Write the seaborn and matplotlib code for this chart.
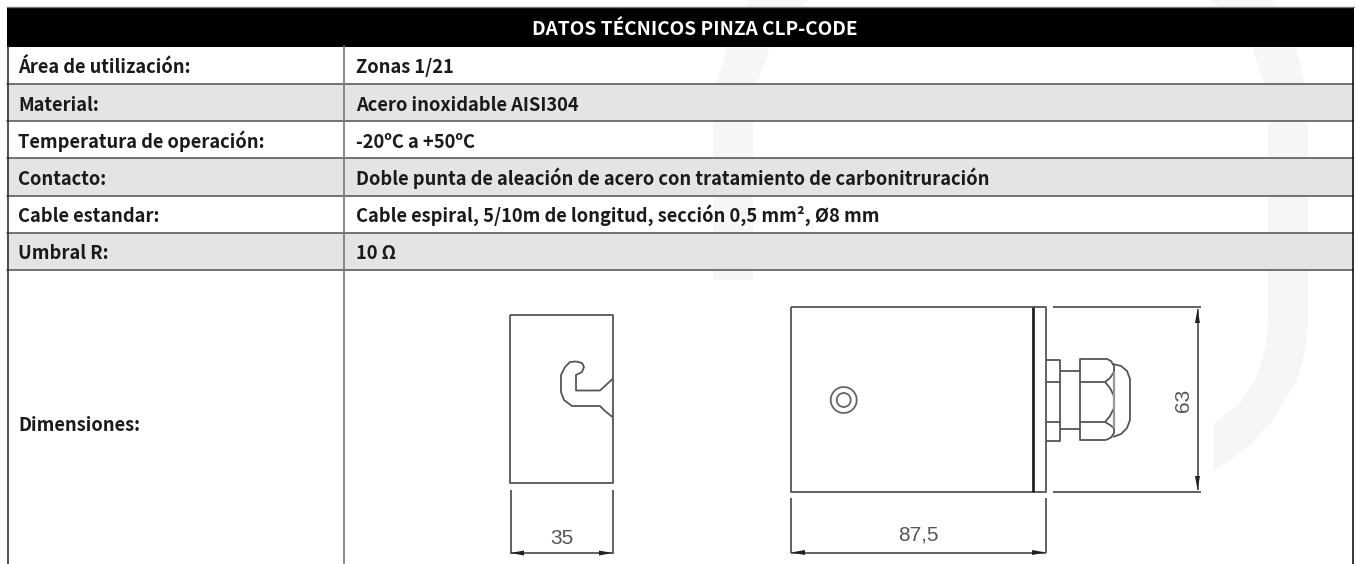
import numpy as np
import pandas as pd
import matplotlib.pyplot as plt
from matplotlib.patches import Circle, Polygon
import seaborn as sns

title = "DATOS TÉCNICOS PINZA CLP-CODE"
row_labels = ["Área de utilización:", "Material:", "Temperatura de operación:",
              "Contacto:", "Cable estandar:", "Umbral R:", "Dimensiones:"]
row_values = ["Zonas 1/21", "Acero inoxidable AISI304", "-20ºC a +50ºC",
              "Doble punta de aleación de acero con tratamiento de carbonitruración",
              "Cable espiral, 5/10m de longitud, sección 0,5 mm², Ø8 mm", "10 Ω", ""]
row_edges = [46.5, 83.5, 121, 158, 195.5, 233, 270, 564]
row_baselines = [73, 111, 148, 185, 222, 259, 431]
dim_labels = ["35", "87,5", "63"]

# background swoosh outlines
swoosh_left = [(750, 0), (808, 0), (785, 20), (770, 46), (757, 83), (753, 121), (753, 280), (713, 280),
               (713, 121), (716, 83), (728, 46), (738, 20)]
swoosh_right = [(1210, 0), (1270, 0), (1285, 22), (1295, 46), (1305, 83), (1308, 121), (1308, 323),
                (1306, 347), (1297, 380), (1273, 420), (1247, 448), (1214, 471), (1214, 424), (1240, 403),
                (1258, 375), (1266, 345), (1268, 323), (1268, 121), (1264, 83), (1252, 46), (1235, 20)]

# drawing strokes
thin_strokes = {
    "left_box": [(510, 315), (612.5, 315), (612.5, 483), (510, 483), (510, 315)],
    "left_ext1": [(510.5, 490), (510.5, 554)],
    "left_ext2": [(612.5, 490), (612.5, 554)],
    "left_dim": [(510.5, 553), (612.5, 553)],
    "hook": [(612.5, 379), (600, 390.5), (576, 390.5), (576, 375), (582, 372), (584, 367), (582, 363), (576, 361.5),
             (570, 362), (565, 367), (561, 375), (561, 392), (564, 400), (572, 406), (580, 406), (600, 406),
             (605, 411), (612.5, 417)],
    "right_box": [(791, 307), (1046, 307), (1046, 491.5), (791, 491.5), (791, 307)],
    "right_ext1": [(791, 498), (791, 553)],
    "right_ext2": [(1046, 498), (1046, 553)],
    "right_dim": [(791, 552.5), (1046, 552.5)],
    "top_ext": [(1053, 307), (1201, 307)],
    "bot_ext": [(1053, 491.5), (1201, 491.5)],
    "v_dim": [(1197.5, 309), (1197.5, 490)],
    "flange": [(1046, 360), (1059.5, 360), (1059.5, 441), (1046, 441)],
    "flange_a": [(1046, 382), (1059.5, 382)],
    "flange_b": [(1046, 422), (1059.5, 422)],
    "rod_a": [(1059.5, 371), (1079.5, 371)],
    "rod_b": [(1059.5, 429), (1079.5, 429)],
    "nut": [(1106, 358.5), (1079.5, 358.5), (1079.5, 440), (1106, 440)],
    "nut_top": [(1106, 358.5), (1111, 361), (1114, 366), (1114, 372), (1110, 378), (1105, 382), (1079.5, 382)],
    "nut_bot": [(1106, 440), (1111, 437.5), (1114, 433), (1114, 428), (1110, 425), (1105, 422), (1079.5, 422)],
    "nut_mid": [(1105, 382), (1110, 388), (1114, 396), (1114, 408), (1110, 416), (1105, 422)],
    "cap": [(1113, 364), (1121, 366), (1127, 371), (1130, 379), (1130, 420), (1127, 428), (1121, 434), (1113, 437)],
}
grey_strokes = {"cap_line": [(1114, 372), (1114, 428)]}
heavy_strokes = {"plate": [(1033, 307), (1033, 491.5)]}
arrow_heads = [
    [(510.5, 553), (524, 550.5), (524, 555.5)], [(612.5, 553), (599, 550.5), (599, 555.5)],
    [(791, 552.5), (805, 550), (805, 555)], [(1046, 552.5), (1032, 550), (1032, 555)],
    [(1197.5, 309), (1195, 323), (1200, 323)], [(1197.5, 490), (1195, 476), (1200, 476)],
]

sns.set_theme(style="white")
plt.rcParams["font.family"] = ["Noto Sans CJK JP", "DejaVu Sans"]

fig = plt.figure(figsize=(13.57, 5.64), dpi=100)
ax = fig.add_axes([0, 0, 1, 1])


def draw_strokes(strokes, color, lw):
    rows = [(name, x, y, i) for name, pts in strokes.items() for i, (x, y) in enumerate(pts)]
    df = pd.DataFrame(rows, columns=["stroke", "x", "y", "order"])
    sns.lineplot(data=df, x="x", y="y", units="stroke", estimator=None, sort=False, color=color,
                 linewidth=lw, legend=False, ax=ax, solid_joinstyle="round", solid_capstyle="butt")


ax.add_patch(Polygon(swoosh_left, color="#f6f6f4", lw=0, zorder=0))
ax.add_patch(Polygon(swoosh_right, color="#f6f6f4", lw=0, zorder=0))

# row bands, every other row is grey
for i in range(len(row_labels)):
    if i % 2 == 1 and i < 6:
        ax.axhspan(row_edges[i], row_edges[i + 1], xmin=7 / 1357, xmax=1353 / 1357, color="#e5e4e2", lw=0, zorder=1)
ax.axhspan(6.5, 46.5, xmin=7 / 1357, xmax=1353.5 / 1357, color="black", lw=0, zorder=2)

ax.plot([7, 1353.5], [6.5, 6.5], color="#777777", lw=1, zorder=3)
for y in row_edges[1:-1]:
    ax.plot([7, 1353], [y, y], color="#505050", lw=1.1, zorder=3)
ax.plot([7.5, 7.5], [46, 564], color="#222222", lw=1.1, zorder=3)
ax.plot([343.5, 343.5], [46, 564], color="#777777", lw=1.2, zorder=3)
ax.plot([1353, 1353], [46, 564], color="black", lw=1.1, zorder=3)

ax.text(695, 35, title, color="white", fontsize=13.7, fontweight="bold", ha="center", va="baseline", zorder=4)
for label, value, yb in zip(row_labels, row_values, row_baselines):
    ax.text(18, yb, label, color="#1a1a1a", fontsize=13.2, fontweight="bold", va="baseline", zorder=4)
    if value:
        ax.text(356, yb, value, color="#1a1a1a", fontsize=13.2, fontweight="bold", va="baseline", zorder=4)

draw_strokes(thin_strokes, "#555555", 1.3)
draw_strokes(grey_strokes, "#999999", 1.6)
draw_strokes(heavy_strokes, "#222222", 2.0)
for head in arrow_heads:
    ax.add_patch(Polygon(head, color="#222222", lw=0, zorder=4))
for r, c in [(13, "#666666"), (7, "#666666")]:
    ax.add_patch(Circle((843.7, 400), r, fill=False, ec=c, lw=1.3, zorder=4))

ax.text(561.5, 538, dim_labels[0], color="#555555", fontsize=15, family="Liberation Sans", ha="center", va="center")
ax.text(918, 535, dim_labels[1], color="#555555", fontsize=15, family="Liberation Sans", ha="center", va="center")
ax.text(1183, 400, dim_labels[2], color="#555555", fontsize=15, family="Liberation Sans", ha="center", va="center",
        rotation=90)

ax.set_xlim(0, 1357)
ax.set_ylim(564, 0)
ax.axis("off")
fig.savefig("out.png", dpi=100, facecolor="white")
plt.close()
